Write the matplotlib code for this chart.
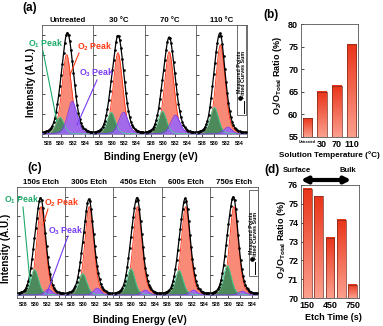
import numpy as np
import matplotlib
matplotlib.use('Agg')
import matplotlib.pyplot as plt
from matplotlib.patches import Rectangle, FancyArrowPatch
from matplotlib.lines import Line2D
from matplotlib.colors import LinearSegmentedColormap

plt.rcParams['font.family'] = ['Liberation Sans', 'DejaVu Sans']
plt.rcParams['font.weight'] = 'bold'
plt.rcParams['mathtext.fontset'] = 'custom'
plt.rcParams['mathtext.rm'] = 'Liberation Sans:bold'
plt.rcParams['mathtext.bf'] = 'Liberation Sans:bold'
plt.rcParams['mathtext.default'] = 'bf'

# peak fits: (centre eV, height, FWHM eV)
temp_titles = ['Untreated', '30 °C', '70 °C', '110 °C']
temp_o1 = [(529.9, 0.17, 1.6), (529.9, 0.22, 1.6), (529.9, 0.23, 1.6), (530.0, 0.27, 1.6)]
temp_o2 = [(531.0, 0.80, 1.8), (531.0, 0.82, 1.8), (531.0, 0.83, 1.8), (531.0, 0.90, 1.8)]
temp_o3 = [(531.9, 0.33, 1.8), (531.9, 0.22, 1.8), (532.0, 0.19, 1.8), (532.2, 0.07, 1.5)]

etch_titles = ['150s Etch', '300s Etch', '450s Etch', '600s Etch', '750s Etch']
etch_o1 = [(529.9, 0.26, 1.6), (529.9, 0.22, 1.6), (529.9, 0.27, 1.6), (529.9, 0.25, 1.6), (529.9, 0.30, 1.6)]
etch_o2 = [(531.0, 0.90, 1.75), (531.0, 0.90, 1.75), (531.0, 0.90, 1.75), (531.0, 0.90, 1.75), (531.0, 0.90, 1.75)]
etch_o3 = [(532.2, 0.06, 1.4), (532.3, 0.07, 1.4), (532.3, 0.05, 1.4), (532.3, 0.05, 1.4), (532.4, 0.04, 1.4)]

temp_labels = ['Untreated', '30', '70', '110']
temp_ratio = [59.1, 65.0, 66.3, 75.5]
etch_labels = ['150', '300', '450', '600', '750']
etch_ratio = [75.8, 75.4, 73.2, 74.15, 70.7]

W, H = 383, 326
fig = plt.figure(figsize=(W / 100, H / 100), dpi=100)


def fx(x):
    return x / W


def fy(y):
    return 1 - y / H


def add_ax(x0, y0, x1, y1):
    return fig.add_axes([x0 / W, 1 - y1 / H, (x1 - x0) / W, (y1 - y0) / H])


def pv(x, c, h, w, eta=0.3):
    g = np.exp(-4 * np.log(2) * (x - c) ** 2 / w ** 2)
    l = 1 / (1 + 4 * (x - c) ** 2 / w ** 2)
    return h * ((1 - eta) * g + eta * l)


def xps_panel(ax, o1, o2, o3, title, xlim):
    e = np.linspace(xlim[0], xlim[1], 500)
    y1, y2, y3 = pv(e, *o1), pv(e, *o2), pv(e, *o3)
    ax.fill_between(e, 0, y2, color='#f98a78', lw=0, zorder=1)
    ax.plot(e, y2, color='#ff3010', lw=0.6, zorder=2)
    ax.fill_between(e, 0, y1, color='#2e8b57', alpha=0.85, lw=0, zorder=3)
    ax.plot(e, y1, color='#45d095', lw=0.6, zorder=4)
    ax.fill_between(e, 0, y3, color='#9a66f8', alpha=0.9, lw=0, zorder=3)
    ax.plot(e, y3, color='#7a3cf0', lw=0.6, zorder=4)
    ax.plot(e, y1 + y2 + y3, color='black', lw=0.9, zorder=5)
    em = np.arange(xlim[0] + 0.3, xlim[1], 0.2)
    tot = pv(em, *o1) + pv(em, *o2) + pv(em, *o3)
    ax.plot(em, tot, 'o', color='black', ms=1.9, mew=0, zorder=6)
    ax.set_xlim(xlim)
    ax.set_ylim(-0.03, 1.1)
    ax.set_xticks([528, 530, 532, 534])
    ax.set_yticks(np.arange(0, 1.01, 0.2))
    ax.set_yticklabels([])
    ax.tick_params(direction='in', length=2, width=0.5, labelsize=3.8, pad=2.8)
    for s in ax.spines.values():
        s.set_linewidth(0.6)
        s.set_color('#555555')
    ax.set_title(title, fontsize=5.6, fontweight='bold', pad=2.5)


def legend_box(x0, y0, x1, y1):
    fig.add_artist(Rectangle((fx(x0), fy(y1)), (x1 - x0) / W, (y1 - y0) / H,
                             transform=fig.transFigure, facecolor='white',
                             edgecolor='#555555', lw=0.6, zorder=10))
    xa = x0 + (x1 - x0) * 0.3
    xb = x0 + (x1 - x0) * 0.72
    fig.add_artist(Line2D([fx(xa)], [fy(y1 - 17)], marker='o', ms=2.3, color='black',
                          transform=fig.transFigure, zorder=11))
    fig.text(fx(xa), fy(y1 - 22), 'Measured Points', rotation=90, ha='center', va='bottom',
             fontsize=3.8, zorder=11)
    fig.add_artist(Line2D([fx(xb), fx(xb)], [fy(y1 - 2), fy(y1 - 14)], color='black', lw=0.7,
                          transform=fig.transFigure, zorder=11))
    fig.text(fx(xb), fy(y1 - 17), 'Fitted Curves Sum', rotation=90, ha='center', va='bottom',
             fontsize=3.8, zorder=11)


def annot(text, color, tx, ty, lx0, ly0, lx1, ly1):
    fig.text(fx(tx), fy(ty), text, color=color, fontsize=6.3, ha='center', va='center', zorder=12)
    fig.add_artist(Line2D([fx(lx0), fx(lx1)], [fy(ly0), fy(ly1)], color=color, lw=0.8,
                          transform=fig.transFigure, zorder=12))


def grad_bars(ax, vals, base, width):
    cmap = LinearSegmentedColormap.from_list('bar', ['#fba08e', '#ea3419'])
    grad = np.linspace(0, 1, 100).reshape(-1, 1)
    for i, v in enumerate(vals):
        ax.imshow(grad, extent=(i - width / 2, i + width / 2, base, v), origin='lower',
                  aspect='auto', cmap=cmap, zorder=2)
        ax.add_patch(Rectangle((i - width / 2, base), width, v - base, fill=False,
                               ec='#7a2a1a', lw=0.5, zorder=3))


# (a) temperature series
a_edges = np.linspace(42, 247, 5)
for i in range(4):
    ax = add_ax(a_edges[i], 25, a_edges[i + 1], 137)
    xps_panel(ax, temp_o1[i], temp_o2[i], temp_o3[i], temp_titles[i], (527.0, 535.3))
legend_box(237, 25, 246.5, 115)

# (c) etch series
c_edges = np.linspace(17, 258, 6)
for i in range(5):
    ax = add_ax(c_edges[i], 187, c_edges[i + 1], 298)
    xps_panel(ax, etch_o1[i], etch_o2[i], etch_o3[i], etch_titles[i], (527.0, 535.0))
legend_box(249, 190, 258, 276)

annot('O$_1$ Peak', '#1faa6b', 46, 44, 43, 51, 57, 122)
annot('O$_2$ Peak', '#ff3a14', 95, 47, 79, 53, 70, 75)
annot('O$_3$ Peak', '#7a3cf0', 97, 73, 97, 80, 77, 125)
annot('O$_1$ Peak', '#1faa6b', 22, 200, 23, 207, 30, 282)
annot('O$_2$ Peak', '#ff3a14', 62, 203, 48, 209, 43, 225)
annot('O$_3$ Peak', '#7a3cf0', 66, 231, 68, 236, 47, 293)

fig.text(fx(151), fy(157), 'Binding Energy (eV)', fontsize=7, ha='center', va='center')
fig.text(fx(140), fy(320), 'Binding Energy (eV)', fontsize=7, ha='center', va='center')
fig.text(fx(31), fy(82), 'Intensity (A.U.)', fontsize=7, rotation=90, ha='center', va='center')
fig.text(fx(6), fy(248), 'Intensity (A.U.)', fontsize=7, rotation=90, ha='center', va='center')

fig.text(fx(30), fy(8), '(a)', fontsize=8.5, ha='center', va='center')
fig.text(fx(271), fy(15), '(b)', fontsize=8.5, ha='center', va='center')
fig.text(fx(35), fy(168), '(c)', fontsize=8.5, ha='center', va='center')
fig.text(fx(272), fy(170), '(d)', fontsize=8.5, ha='center', va='center')

# (b) O2 ratio vs temperature
axb = add_ax(301, 24, 358, 137)
grad_bars(axb, temp_ratio, 55, 0.67)
axb.set_xlim(-0.45, 3.45)
axb.set_ylim(55, 80)
axb.set_yticks(np.arange(55, 81, 5))
axb.set_xticks(range(4))
axb.set_xticklabels(temp_labels)
axb.tick_params(direction='in', length=2, width=0.5, labelsize=6.5, pad=2)
axb.get_xticklabels()[0].set_fontsize(2.6)
for s in axb.spines.values():
    s.set_linewidth(0.6)
    s.set_color('#555555')
fig.text(fx(329), fy(155), 'Solution Temperature (°C)', fontsize=5.9, ha='center', va='center')
fig.text(fx(277), fy(76), 'O$_2$/O$_{Total}$ Ratio (%)', fontsize=6.5, rotation=90,
         ha='center', va='center')

# (d) O2 ratio vs etch time
axd = add_ax(301, 185, 359, 298)
grad_bars(axd, etch_ratio, 70, 0.75)
axd.set_xlim(-0.55, 4.55)
axd.set_ylim(70, 76)
axd.set_yticks(np.arange(70, 77, 1))
axd.set_xticks([0, 2, 4])
axd.set_xticklabels([etch_labels[0], etch_labels[2], etch_labels[4]])
axd.tick_params(direction='in', length=2, width=0.5, labelsize=6.5, pad=2)
for s in axd.spines.values():
    s.set_linewidth(0.6)
    s.set_color('#555555')
fig.text(fx(333), fy(318), 'Etch Time (s)', fontsize=6.5, ha='center', va='center')
fig.text(fx(281), fy(240), 'O$_2$/O$_{Total}$ Ratio (%)', fontsize=6.5, rotation=90,
         ha='center', va='center')

fig.text(fx(297), fy(170), 'Surface', fontsize=5.5, ha='center', va='center')
fig.text(fx(348), fy(170), 'Bulk', fontsize=5.5, ha='center', va='center')
fig.add_artist(FancyArrowPatch((fx(298), fy(180)), (fx(354), fy(180)), transform=fig.transFigure,
                               arrowstyle='<|-|>', mutation_scale=9, lw=3.0, color='black'))

fig.savefig('out.png', dpi=100)
